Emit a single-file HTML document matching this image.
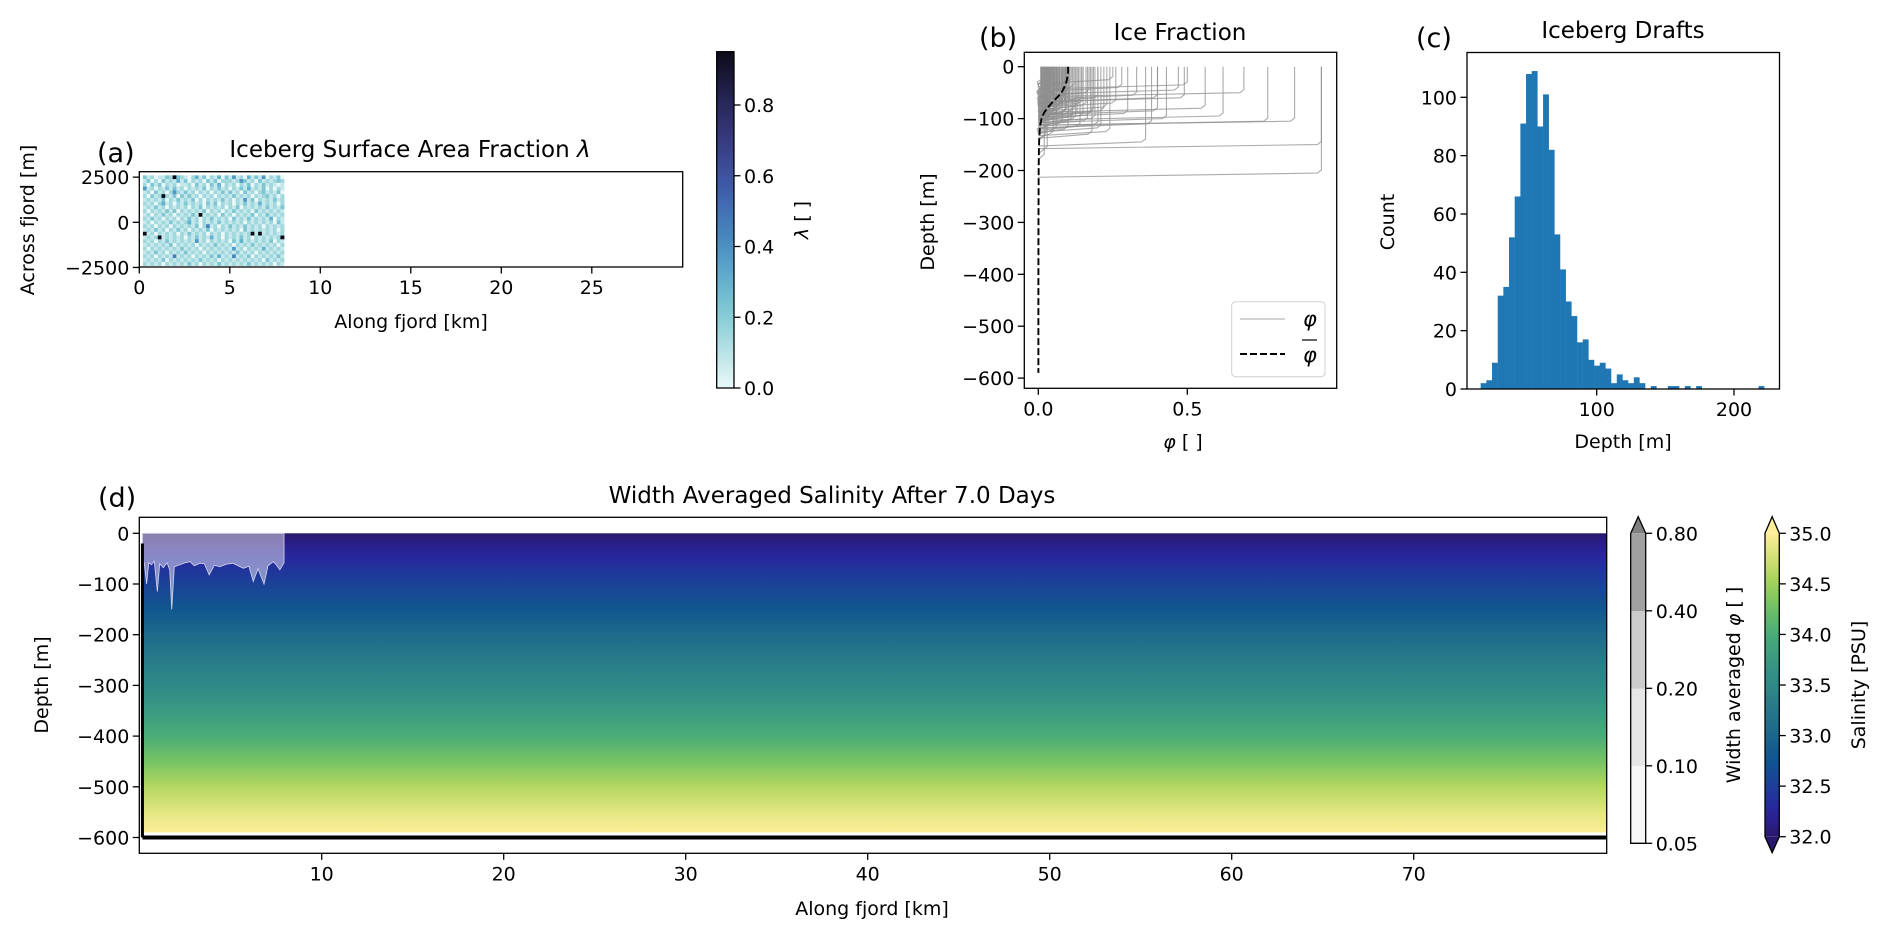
<!DOCTYPE html>
<html><head><meta charset="utf-8"><title>Fjord iceberg figure</title>
<style>
html,body{margin:0;padding:0;background:#fff;}
svg{display:block;font-family:"DejaVu Sans","Liberation Sans",sans-serif;}
</style></head>
<body>
<svg id="fig" xmlns="http://www.w3.org/2000/svg" width="1892" height="939" viewBox="0 0 1892 939">
<defs id="defs"></defs>
</svg>
<script>
// ---------- DATA ----------
// Panel (a): iceberg surface area fraction grid, digit d -> d*0.075 (9 -> 0.95)
const lamRows = [
"31201132932102413021403151204131502130",
"13020312141302120313022212531203121232",
"20313021201120312031402120213021312101",
"51202131312021213021312021314121302021",
"12031202521312021202131312031202312130",
"20312921303131202120212131212021231202",
"12121302131213020212131202151302121312",
"21202412021312120313021202131214121202",
"12131202121202130212120213021212131213",
"20212131302121213021202131212031212121",
"12021312021213191212031202121302131212",
"21312021202131202131212031213121214021",
"12021213121241202121312121202121212031",
"21202120212121302612021312131212021212",
"12131202131202121302121212031212121202",
"91202121202131212021202121212919121212",
"12129121212021312141202121312021212129",
"21202131212121512021212031412121213021",
"12121213021212021213121202121312121202",
"20212121213121202121212151202121412121",
"12131202121312120212121213121202121212",
"21202121612120212131412161213021212131",
"12121302121212131212021212121212031212",
"21212021212131202121312121213121212021"];
const lamX0 = 0.2, lamX1 = 8.0, lamY0 = -2400, lamY1 = 2600;
const lamTicksX = [0,5,10,15,20,25];
const lamTicksY = [2500,0,-2500];
const lamCbTicks = [0.0,0.2,0.4,0.6,0.8];

// Panel (b): individual iceberg profiles [phi, draft]
const profPhi = [0.95,0.95,0.86,0.77,0.69,0.62,0.56,0.50,0.49,0.47,0.43,0.40,0.40,0.38,0.36,0.33,0.30,0.28,0.26,0.25,0.24,0.22,0.20,0.19,0.18,0.17,0.16,0.15,0.14,0.13,0.12,0.12,0.11,0.10,0.10,0.09,0.09,0.08,0.08,0.07,0.07,0.06,0.06,0.05,0.05,0.05,0.045,0.04,0.04,0.04,0.035,0.03,0.03,0.03,0.025,0.02,0.02,0.02,0.015,0.01,0.01,0.01,0.09,0.085,0.075,0.065,0.055,0.045,0.035,0.028,0.022,0.018,0.012,0.008,0.11,0.105,0.095,0.07,0.06,0.05,0.04,0.032,0.026,0.2,0.15,0.13,0.06,0.033,
0.012,0.016,0.019,0.023,0.027,0.031,0.036,0.041,0.044,0.048,0.052,0.057,0.061,0.066,0.072,0.078,0.083,0.088,0.094,0.099,0.014,0.021,0.029,0.038,0.046,0.054,0.063,0.071,0.081,0.092,0.102,0.115,0.125,0.135,0.145,0.165,0.175,0.185,0.21,0.23];
const profDraft = [150,205,105,105,50,95,80,35,60,45,100,60,85,110,145,55,90,40,70,25,125,85,60,100,130,50,75,95,115,65,40,85,105,55,120,70,90,45,110,60,80,100,50,75,95,130,25,40,65,85,115,55,105,160,135,70,90,175,80,30,60,120,35,65,75,50,88,62,78,72,95,58,68,48,30,70,52,88,40,64,98,82,108,112,70,92,122,66,
45,52,38,61,47,73,56,66,42,58,77,49,63,54,68,81,59,71,86,64,33,44,51,57,62,69,74,79,83,88,92,97,101,76,67,104,93,87,118,78];
const meanDepth = [0,10,20,30,40,50,60,70,80,90,100,110,120,140,160,200,300,400,500,590];
const meanPhi = [0.100,0.100,0.098,0.094,0.087,0.078,0.062,0.045,0.030,0.018,0.011,0.007,0.005,0.003,0.002,0.0012,0.0006,0.0004,0.0003,0.0003];
const bTicksX = [0.0,0.5];
const bTicksY = [0,-100,-200,-300,-400,-500,-600];

// Panel (c): histogram of drafts, 50 bins from 15.5 m, width 4.13 m
const histStart = 15.5, histWidth = 4.13;
const histCounts = [2,3,9,32,35,52,66,91,108,109,90,101,82,53,41,30,25,16,17,10,8,9,7,2,5,3,2,4,2,0,1,0,0,1,1,0,1,0,1,0,0,0,0,0,0,0,0,0,0,1];
const cTicksX = [100,200];
const cTicksY = [0,20,40,60,80,100];

// Panel (d): salinity vs depth, and ice overlay depth along fjord
const salDepth = [0,25,50,100,150,200,250,300,350,400,450,500,550,590];
const salValue = [32.0,32.15,32.3,32.55,32.8,33.05,33.3,33.5,33.75,34.0,34.3,34.6,34.85,35.0];
const iceX = [0.15,0.25,0.38,0.5,0.65,0.8,0.97,1.1,1.3,1.5,1.65,1.76,1.9,2.2,2.5,2.77,3.0,3.3,3.55,3.82,4.1,4.4,4.75,5.13,5.4,5.7,6.0,6.24,6.5,6.83,7.05,7.34,7.5,7.7,7.93];
const iceDepth = [45,60,100,58,62,55,115,60,68,58,72,150,66,62,58,56,64,59,60,82,63,66,61,59,64,69,65,95,70,100,64,56,62,72,58];
const dTicksX = [10,20,30,40,50,60,70];
const dTicksY = [0,-100,-200,-300,-400,-500,-600];
const phiLevels = [0.05,0.10,0.20,0.40,0.80];
const phiColors = ["#f7f7f7","#e6e6e6","#cccccc","#a0a0a0"];
const salTicks = [32.0,32.5,33.0,33.5,34.0,34.5,35.0];

// ---------- HELPERS ----------
const NS = "http://www.w3.org/2000/svg";
const svg = document.getElementById("fig");
const defs = document.getElementById("defs");
function mk(tag, name, attrs, parent){
  const el = document.createElementNS(NS, tag);
  
  
  for (const k in attrs) el.setAttribute(k, attrs[k]);
  (parent || svg).appendChild(el);
  return el;
}
function txt(name, x, y, s, size, anchor, extra){
  const t = mk("text", name, Object.assign({x:x, y:y, "font-size":size, "text-anchor":anchor||"start", fill:"#000"}, extra||{}));
  t.textContent = s;
  return t;
}
function lerpHex(stops, v){
  v = Math.max(0, Math.min(1, v));
  for (let i=1;i<stops.length;i++){
    if (v <= stops[i][0]){
      const a = stops[i-1], b = stops[i];
      const f = (v - a[0])/(b[0]-a[0] || 1);
      const ca = parseInt(a[1].slice(1),16), cb = parseInt(b[1].slice(1),16);
      const r = Math.round(((ca>>16)&255)*(1-f)+((cb>>16)&255)*f);
      const g = Math.round(((ca>>8)&255)*(1-f)+((cb>>8)&255)*f);
      const bl = Math.round((ca&255)*(1-f)+(cb&255)*f);
      return "rgb("+r+","+g+","+bl+")";
    }
  }
  return stops[stops.length-1][1];
}
const iceStops = [[0,"#eaf8f8"],[0.1,"#b9e3e6"],[0.2,"#88cdd6"],[0.3,"#63b2cf"],[0.4,"#4a90c2"],[0.5,"#4271b5"],[0.6,"#3e52a0"],[0.7,"#373a7e"],[0.8,"#29285c"],[0.95,"#0b0b18"]];
const halStops = [[0,"#29186b"],[0.08,"#2a23a0"],[0.17,"#1c3f98"],[0.25,"#0f5390"],[0.35,"#1d6a8b"],[0.45,"#2a7e88"],[0.55,"#349385"],[0.65,"#45a87b"],[0.75,"#6cbf68"],[0.83,"#9dd056"],[0.9,"#c8dd6b"],[1,"#fdee99"]];
function salNorm(s){ return (s-32)/3; }
const FS = 19, TS = 23, LS = 27;
function frame(name, x0, y0, x1, y1){
  mk("rect", name, {x:x0, y:y0, width:x1-x0, height:y1-y0, fill:"none", stroke:"#000", "stroke-width":1.3});
}
function xtick(name, x, y, label){
  mk("line", name+"-tick", {x1:x, y1:y, x2:x, y2:y+6.5, stroke:"#000", "stroke-width":1.3});
  txt(name+"-label", x, y+27, label, FS, "middle");
}
function ytick(name, x, y, label){
  mk("line", name+"-tick", {x1:x-6.5, y1:y, x2:x, y2:y, stroke:"#000", "stroke-width":1.3});
  txt(name+"-label", x-10, y+7, label, FS, "end");
}
function rtick(name, x, y, label){
  mk("line", name+"-tick", {x1:x, y1:y, x2:x+6.5, y2:y, stroke:"#000", "stroke-width":1.3});
  txt(name+"-label", x+10, y+7, label, FS, "start");
}
function fmtNeg(v){ return v<0 ? "\u2212"+Math.abs(v) : String(v); }

// ---------- PANEL A ----------
const A = {x0:139.3, x1:682.7, y0:171.7, y1:267};
const ax = km => 139.3 + 18.1*km;
const ay = m => 222.3 - m*0.01806;
const nCols = 38, nRows = lamRows.length;
const cw = (ax(lamX1)-ax(lamX0))/nCols, ch = (ay(lamY0)-ay(lamY1))/nRows;
const gA = mk("g", "lambda-heatmap", {});
for (let r=0;r<nRows;r++){
  const row = (lamRows[r]+"1".repeat(nCols)).slice(0,nCols);
  for (let c=0;c<nCols;c++){
    const d = +row[c];
    const v = d===9 ? 0.95 : d*0.075;
    const cell = mk("rect", "lambda-cell", {x:ax(lamX0)+c*cw, y:ay(lamY1)+r*ch, width:cw+0.3, height:ch+0.3, fill:lerpHex(iceStops, v)}, gA);
  }
}
frame("panel-a-axes", A.x0, A.y0, A.x1, A.y1);
lamTicksX.forEach(v => xtick("a-xtick", ax(v), A.y1, String(v)));
lamTicksY.forEach(v => ytick("a-ytick", A.x0, ay(v), fmtNeg(v)));
txt("panel-a-letter", 97, 162, "(a)", LS, "start");
txt("panel-a-title", 410, 157, "Iceberg Surface Area Fraction ", TS, "middle").innerHTML = 'Iceberg Surface Area Fraction <tspan font-style="italic">λ</tspan>';
txt("panel-a-xlabel", 411, 328, "Along fjord [km]", FS, "middle");
txt("panel-a-ylabel", 0, 0, "Across fjord [m]", FS, "middle", {transform:"translate(34,220) rotate(-90)"});
// colorbar a
const cbA = {x0:716.7, x1:734, y0:51.7, y1:388};
const cby = v => 388 - v/0.8*283;
const gradA = mk("linearGradient", "lambda-gradient", {id:"gradA", x1:0, y1:1, x2:0, y2:0}, defs);
for (let i=0;i<=20;i++){ const v=i/20*0.95; mk("stop","lambda-stop",{offset:(i/20), "stop-color":lerpHex(iceStops,v)}, gradA); }
mk("rect", "lambda-colorbar", {x:cbA.x0, y:cbA.y0, width:cbA.x1-cbA.x0, height:cbA.y1-cbA.y0, fill:"url(#gradA)", stroke:"#000", "stroke-width":1.3});
lamCbTicks.forEach(v => rtick("a-cbtick", cbA.x1, cby(v), v.toFixed(1)));
txt("lambda-cb-label", 0, 0, "", FS, "middle", {transform:"translate(808,220) rotate(-90)"}).innerHTML = '<tspan font-style="italic">λ</tspan> [ ]';

// ---------- PANEL B ----------
const B = {x0:1024.3, x1:1336.7, y0:52.3, y1:388.3};
const bx = p => 1038.3 + 298*p;
const by = d => 66.7 - 0.519*d;
const clipB = mk("clipPath","clip-b",{id:"clipB"},defs);
mk("rect","clip-b-rect",{x:B.x0,y:B.y0,width:B.x1-B.x0,height:B.y1-B.y0},clipB);
const gB = mk("g", "phi-profiles", {"clip-path":"url(#clipB)"});
for (let i=0;i<profPhi.length;i++){
  const p = profPhi[i], d = profDraft[i];
  const pts = [[bx(p),by(0)],[bx(p),by(-d+6)],[bx(p)-4,by(-d)],[bx(0),by(-d-8)]];
  mk("polyline", "phi-profile", {points:pts.map(q=>q.join(",")).join(" "), fill:"none", stroke:"#8f8f8f", "stroke-opacity":0.75, "stroke-width":1.1}, gB);
}
mk("polyline", "phi-mean-line", {points:meanDepth.map((d,i)=>bx(meanPhi[i])+","+by(-d)).join(" "), fill:"none", stroke:"#000", "stroke-width":1.9, "stroke-dasharray":"7,3"});
frame("panel-b-axes", B.x0, B.y0, B.x1, B.y1);
bTicksX.forEach(v => xtick("b-xtick", bx(v), B.y1, v.toFixed(1)));
bTicksY.forEach(v => ytick("b-ytick", B.x0, by(v), fmtNeg(v)));
txt("panel-b-letter", 979, 47, "(b)", LS, "start");
txt("panel-b-title", 1180, 40, "Ice Fraction", TS, "middle");
txt("panel-b-xlabel", 1183, 448, "", FS, "middle").innerHTML = '<tspan font-style="italic">φ</tspan> [ ]';
txt("panel-b-ylabel", 0, 0, "Depth [m]", FS, "middle", {transform:"translate(934,222) rotate(-90)"});
mk("rect", "panel-b-legend", {x:1231.7, y:301.7, width:93.3, height:75, rx:4, fill:"#fff", "fill-opacity":0.8, stroke:"#d0d0d0", "stroke-width":1});
mk("line", "legend-phi-line", {x1:1240, y1:319, x2:1285, y2:319, stroke:"#bbb", "stroke-width":1.2});
txt("legend-phi-label", 1303, 326, "φ", FS+2, "start", {"font-style":"italic"});
mk("line", "legend-phibar-line", {x1:1240, y1:354, x2:1285, y2:354, stroke:"#000", "stroke-width":1.9, "stroke-dasharray":"7,3"});
txt("legend-phibar-label", 1303, 362, "φ", FS+2, "start", {"font-style":"italic"});
mk("line", "legend-phibar-overline", {x1:1302, y1:340, x2:1317, y2:340, stroke:"#000", "stroke-width":1.2});

// ---------- PANEL C ----------
const C = {x0:1467, x1:1779.5, y0:52.5, y1:389};
const cx = d => 1459.4 + 1.373*d;
const cy = n => 389 - 2.917*n;
const gC = mk("g", "histogram-bars", {});
histCounts.forEach((n,i) => {
  if (n<=0) return;
  const x0 = cx(histStart + i*histWidth), x1 = cx(histStart + (i+1)*histWidth);
  mk("rect", "hist-bar", {x:x0, y:cy(n), width:x1-x0+0.2, height:cy(0)-cy(n), fill:"#1f77b4"}, gC);
});
frame("panel-c-axes", C.x0, C.y0, C.x1, C.y1);
cTicksX.forEach(v => xtick("c-xtick", cx(v), C.y1, String(v)));
cTicksY.forEach(v => ytick("c-ytick", C.x0, cy(v), String(v)));
txt("panel-c-letter", 1416, 47, "(c)", LS, "start");
txt("panel-c-title", 1623, 38, "Iceberg Drafts", TS, "middle");
txt("panel-c-xlabel", 1623, 448, "Depth [m]", FS, "middle");
txt("panel-c-ylabel", 0, 0, "Count", FS, "middle", {transform:"translate(1394,222) rotate(-90)"});

// ---------- PANEL D ----------
const D = {x0:139.3, x1:1606.7, y0:517.3, y1:853.3};
const dx = km => 139.7 + 18.2*km;
const dy = m => 533.3 + 0.507*m;
const gradD = mk("linearGradient", "salinity-field-gradient", {id:"gradD", x1:0, y1:0, x2:0, y2:1}, defs);
salDepth.forEach((d,i) => mk("stop","salinity-stop",{offset:(d/salDepth[salDepth.length-1]), "stop-color":lerpHex(halStops, salNorm(salValue[i]))}, gradD));
mk("rect", "salinity-field", {x:dx(0.15), y:dy(0), width:D.x1-dx(0.15), height:dy(590)-dy(0), fill:"url(#gradD)"});
let icePath = "M"+dx(iceX[0])+","+dy(0);
iceX.forEach((x,i)=>{ icePath += " L"+dx(x)+","+dy(iceDepth[i]); });
icePath += " L"+dx(iceX[iceX.length-1])+","+dy(0)+" Z";
mk("path", "ice-fraction-overlay", {d:icePath, fill:"#ffffff", "fill-opacity":0.45, stroke:"#d8d4f0", "stroke-width":0.8});
mk("line", "fjord-bottom-line", {x1:dx(0.15), y1:dy(600), x2:D.x1, y2:dy(600), stroke:"#000", "stroke-width":4});
mk("line", "fjord-wall-line", {x1:dx(0.15), y1:dy(20), x2:dx(0.15), y2:dy(600), stroke:"#000", "stroke-width":3});
frame("panel-d-axes", D.x0, D.y0, D.x1, D.y1);
dTicksX.forEach(v => xtick("d-xtick", dx(v), D.y1, String(v)));
dTicksY.forEach(v => ytick("d-ytick", D.x0, dy(-v), fmtNeg(v)));
txt("panel-d-letter", 98, 507, "(d)", LS, "start");
txt("panel-d-title", 832, 503, "Width Averaged Salinity After 7.0 Days", TS, "middle");
txt("panel-d-xlabel", 872, 915, "Along fjord [km]", FS, "middle");
txt("panel-d-ylabel", 0, 0, "Depth [m]", FS, "middle", {transform:"translate(48,685) rotate(-90)"});

// phi colorbar
const cbP = {x0:1630.7, x1:1645.7, y0:533.3, y1:843.3};
const segH = (cbP.y1-cbP.y0)/(phiLevels.length-1);
phiColors.forEach((c,i)=>{
  mk("rect","phi-cb-segment",{x:cbP.x0, y:cbP.y1-(i+1)*segH, width:cbP.x1-cbP.x0, height:segH+0.3, fill:c});
});
mk("polygon","phi-cb-extend",{points:cbP.x0+","+cbP.y0+" "+cbP.x1+","+cbP.y0+" "+((cbP.x0+cbP.x1)/2)+",516.7", fill:"#808080"});
mk("polygon","phi-cb-outline",{points:cbP.x0+","+cbP.y1+" "+cbP.x0+","+cbP.y0+" "+((cbP.x0+cbP.x1)/2)+",516.7 "+cbP.x1+","+cbP.y0+" "+cbP.x1+","+cbP.y1, fill:"none", stroke:"#000", "stroke-width":1.3});
phiLevels.forEach((v,i)=> rtick("phi-cbtick", cbP.x1, cbP.y1 - i*segH, v.toFixed(2)));
txt("phi-cb-label", 0, 0, "", FS, "middle", {transform:"translate(1740,685) rotate(-90)"}).innerHTML = 'Width averaged <tspan font-style="italic">φ</tspan> [ ]';

// salinity colorbar
const cbS = {x0:1765, x1:1779.3, y0:533.3, y1:836.7};
const sy = s => cbS.y1 - (s-32)/3*(cbS.y1-cbS.y0);
const gradS = mk("linearGradient", "salinity-cb-gradient", {id:"gradS", x1:0, y1:1, x2:0, y2:0}, defs);
for (let i=0;i<=20;i++) mk("stop","salinity-cb-stop",{offset:i/20, "stop-color":lerpHex(halStops,i/20)}, gradS);
mk("rect","salinity-colorbar",{x:cbS.x0, y:cbS.y0, width:cbS.x1-cbS.x0, height:cbS.y1-cbS.y0, fill:"url(#gradS)"});
const mid = (cbS.x0+cbS.x1)/2;
mk("polygon","salinity-cb-extend-top",{points:cbS.x0+","+cbS.y0+" "+cbS.x1+","+cbS.y0+" "+mid+",516.7", fill:"#fdee99"});
mk("polygon","salinity-cb-extend-bottom",{points:cbS.x0+","+cbS.y1+" "+cbS.x1+","+cbS.y1+" "+mid+",852.7", fill:"#29186b"});
mk("polygon","salinity-cb-outline",{points:cbS.x0+","+cbS.y1+" "+cbS.x0+","+cbS.y0+" "+mid+",516.7 "+cbS.x1+","+cbS.y0+" "+cbS.x1+","+cbS.y1+" "+mid+",852.7", fill:"none", stroke:"#000", "stroke-width":1.3});
salTicks.forEach(v => rtick("salinity-cbtick", cbS.x1, sy(v), v.toFixed(1)));
txt("salinity-cb-label", 0, 0, "Salinity [PSU]", FS, "middle", {transform:"translate(1865,685) rotate(-90)"});
</script>
</body></html>
